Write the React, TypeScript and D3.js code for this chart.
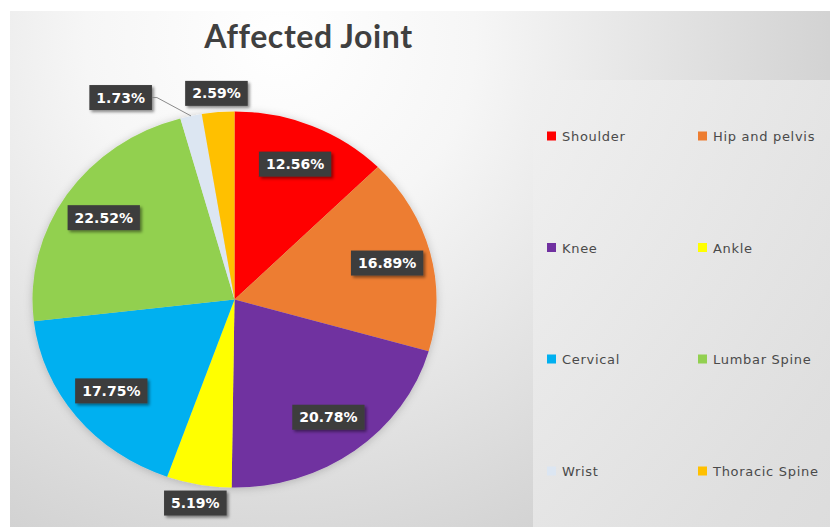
import React, { useEffect, useRef } from "react";
import * as d3 from "d3";

const categories = ["Shoulder", "Hip and pelvis", "Knee", "Ankle", "Cervical", "Lumbar Spine", "Wrist", "Thoracic Spine"];
const values = [12.56, 16.89, 20.78, 5.19, 17.75, 22.52, 1.73, 2.59];
const labels = ["12.56%", "16.89%", "20.78%", "5.19%", "17.75%", "22.52%", "1.73%", "2.59%"];
const colors = ["#FF0000", "#ED7D31", "#7030A0", "#FFFF00", "#00B0F0", "#92D050", "#DCE6F2", "#FFC000"];
const title = "Affected Joint";

const W = 830;
const H = 527;

export default function App() {
  const ref = useRef<SVGSVGElement | null>(null);

  useEffect(() => {
    const svg = d3.select(ref.current);
    svg.selectAll("*").remove();

    const defs = svg.append("defs");
    const rg = defs.append("radialGradient").attr("id", "bg").attr("gradientUnits", "userSpaceOnUse")
      .attr("cx", 280).attr("cy", 40).attr("r", 650);
    rg.append("stop").attr("offset", 0).attr("stop-color", "#ffffff");
    rg.append("stop").attr("offset", 0.3).attr("stop-color", "#f6f6f6");
    rg.append("stop").attr("offset", 1).attr("stop-color", "#c9c9c9");

    const lg = defs.append("linearGradient").attr("id", "leg").attr("x1", 0).attr("y1", 0).attr("x2", 1).attr("y2", 1);
    lg.append("stop").attr("offset", 0).attr("stop-color", "#f0f0f0");
    lg.append("stop").attr("offset", 1).attr("stop-color", "#e0e0e0");

    const sh = defs.append("filter").attr("id", "boxShadow").attr("x", "-20%").attr("y", "-30%").attr("width", "150%").attr("height", "180%");
    sh.append("feDropShadow").attr("dx", 2).attr("dy", 2).attr("stdDeviation", 1.5).attr("flood-color", "#000").attr("flood-opacity", 0.45);

    const psh = defs.append("filter").attr("id", "pieShadow").attr("x", "-10%").attr("y", "-10%").attr("width", "120%").attr("height", "120%");
    psh.append("feDropShadow").attr("dx", 0).attr("dy", 1).attr("stdDeviation", 4).attr("flood-color", "#000").attr("flood-opacity", 0.2);

    // background
    svg.append("rect").attr("x", 0).attr("y", 0).attr("width", W).attr("height", H).attr("fill", "#ffffff");
    svg.append("rect").attr("x", 10).attr("y", 11).attr("width", W - 10).attr("height", H - 11).attr("fill", "url(#bg)");
    svg.append("rect").attr("x", 533).attr("y", 80).attr("width", W - 533).attr("height", H - 80).attr("fill", "url(#leg)").attr("opacity", 0.85);

    // title
    svg.append("text").attr("x", 308.5).attr("y", 48).attr("text-anchor", "middle")
      .attr("font-family", "Lato, 'Open Sans', sans-serif").attr("font-weight", 700).attr("font-size", 32)
      .attr("letter-spacing", 0.6).attr("fill", "#404040").text(title);

    // pie
    const cx = 234.5, cy = 299.5, rx = 202, ry = 188;
    const pie = d3.pie<number>().sort(null).value((d) => d);
    const arcs = pie(values);
    const arc = d3.arc<d3.PieArcDatum<number>>().innerRadius(0).outerRadius(ry);

    const g = svg.append("g").attr("transform", `translate(${cx},${cy}) scale(${rx / ry},1)`).attr("filter", "url(#pieShadow)");
    g.selectAll("path").data(arcs).join("path")
      .attr("d", (d) => arc(d) as string)
      .attr("fill", (d, i) => colors[i]);

    // labels
    const pos = (a: number, r: number) => [cx + Math.sin(a) * r * rx, cy - Math.cos(a) * r * ry];
    const labelLayer = svg.append("g");
    arcs.forEach((d, i) => {
      const mid = (d.startAngle + d.endAngle) / 2;
      const frac = d.endAngle - d.startAngle;
      const outside = frac < 0.4;
      let [lx, ly] = pos(mid, outside ? 1.1 : 0.78);
      let nudge = 0;
      if (i > 0 && outside && arcs[i + 1] && (arcs[i + 1].endAngle - arcs[i + 1].startAngle) < 0.4) nudge = -66;
      lx += nudge;
      const lgp = labelLayer.append("g");
      const rect = lgp.append("rect").attr("fill", "#3d3d3d").attr("filter", "url(#boxShadow)");
      const t = lgp.append("text").attr("x", lx).attr("y", ly + 5).attr("text-anchor", "middle")
        .attr("font-family", "'DejaVu Sans', Verdana, sans-serif").attr("font-weight", 700).attr("font-size", 14)
        .attr("fill", "#ffffff").text(labels[i]);
      const bw = ((t.node() as SVGTextElement).getComputedTextLength?.() || 56) + 14;
      const bh = 25;
      rect.attr("x", lx - bw / 2).attr("y", ly - bh / 2).attr("width", bw).attr("height", bh);
      if (nudge !== 0) {
        const [ex, ey] = pos(mid, 1.0);
        const bx = lx + bw / 2;
        labelLayer.append("path")
          .attr("d", `M${bx},${ly} L${bx + 5},${ly} L${ex},${ey}`)
          .attr("fill", "none").attr("stroke", "#8a8a8a").attr("stroke-width", 1);
      }
    });

    // legend
    const legend = svg.append("g");
    const colX = [547, 698];
    const rowY = [136, 247.5, 359, 471];
    categories.forEach((c, i) => {
      const x = colX[i % 2];
      const y = rowY[Math.floor(i / 2)];
      legend.append("rect").attr("x", x).attr("y", y - 4.5).attr("width", 9).attr("height", 9).attr("fill", colors[i]);
      legend.append("text").attr("x", x + 15).attr("y", y + 5)
        .attr("font-family", "'DejaVu Sans', Verdana, sans-serif").attr("font-size", 13)
        .attr("letter-spacing", 0.7).attr("fill", "#4a4a4a").text(c);
    });
  }, []);

  return (
    <svg ref={ref} width={W} height={H} style={{ position: "absolute", left: 0, top: 0, display: "block" }} />
  );
}
